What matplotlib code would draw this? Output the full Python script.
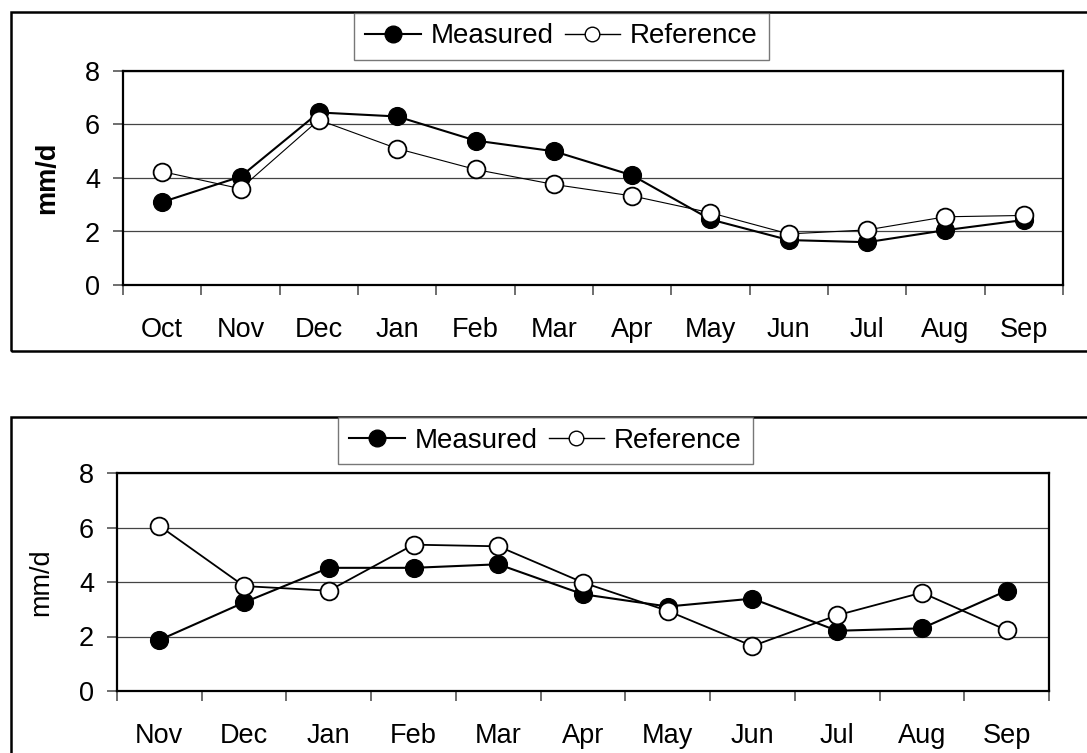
import matplotlib
matplotlib.use("Agg")
import matplotlib.pyplot as plt
from matplotlib.lines import Line2D
from matplotlib.patches import Rectangle

plt.rcParams['font.family'] = ['Liberation Sans', 'DejaVu Sans']

# Water year 1 (Oct-Sep)
months_top = ["Oct", "Nov", "Dec", "Jan", "Feb", "Mar", "Apr", "May", "Jun", "Jul", "Aug", "Sep"]
measured_top = [3.1, 4.05, 6.45, 6.3, 5.4, 5.0, 4.1, 2.45, 1.68, 1.6, 2.05, 2.43]
reference_top = [4.24, 3.6, 6.17, 5.1, 4.32, 3.76, 3.33, 2.7, 1.91, 2.06, 2.55, 2.6]

# Water year 2 (Nov-Sep)
months_bot = ["Nov", "Dec", "Jan", "Feb", "Mar", "Apr", "May", "Jun", "Jul", "Aug", "Sep"]
measured_bot = [1.87, 3.25, 4.52, 4.52, 4.65, 3.55, 3.1, 3.39, 2.21, 2.3, 3.68]
reference_bot = [6.06, 3.85, 3.68, 5.37, 5.31, 3.98, 2.94, 1.65, 2.78, 3.61, 2.23]

W, H = 1087, 753
FS = 19.5
fig = plt.figure(figsize=(W / 100, H / 100), dpi=100)


def px_rect(x0, y0, x1, y1):
    return [x0 / W, 1 - y1 / H, (x1 - x0) / W, (y1 - y0) / H]


def draw_panel(rect, months, meas, ref, legend_box, bold_label, frame, ref_lw):
    fx0, fy0, fx1, fy1 = frame
    fig.patches.append(Rectangle((fx0 / W, 1 - fy1 / H), (fx1 - fx0) / W, (fy1 - fy0) / H,
                                 transform=fig.transFigure, fill=False,
                                 edgecolor='black', linewidth=1.8, zorder=0))
    ax = fig.add_axes(px_rect(*rect))
    x = list(range(len(months)))
    ax.plot(x, meas, color='black', lw=1.5, marker='o', ms=12.8,
            mfc='black', mec='black', zorder=3)
    ax.plot(x, ref, color='black', lw=ref_lw, marker='o', ms=12.8,
            mfc='white', mec='black', mew=1.3, zorder=4)
    ax.set_xlim(-0.5, len(months) - 0.5)
    ax.set_ylim(0, 8)
    ax.set_yticks([0, 2, 4, 6, 8])
    ax.yaxis.grid(True, color='#444444', lw=0.9)
    ax.set_axisbelow(True)
    ax.set_xticks([i - 0.5 for i in range(len(months) + 1)])
    ax.set_xticklabels([])
    ax.set_xticks(x, minor=True)
    ax.set_xticklabels(months, minor=True)
    ax.tick_params(axis='x', which='major', length=7.5, width=1.2, color='#555555', direction='out')
    ax.tick_params(axis='x', which='minor', length=0, pad=23, labelsize=FS)
    ax.tick_params(axis='y', length=7.5, width=1.2, color='#555555', direction='out',
                   pad=9, labelsize=FS)
    for s in ax.spines.values():
        s.set_linewidth(1.6)
        s.set_color('black')
    ax.set_ylabel("mm/d", fontsize=FS, fontweight='bold' if bold_label else 'normal',
                  labelpad=18)

    handles = [
        Line2D([], [], color='black', lw=1.5, marker='o', ms=12, mfc='black', mec='black'),
        Line2D([], [], color='black', lw=1.0, marker='o', ms=10.5, mfc='white', mec='black'),
    ]
    lx0, ly0, lx1, ly1 = legend_box
    leg = fig.legend(handles, ["Measured", "Reference"], loc='upper center',
                     bbox_to_anchor=((lx0 + lx1) / 2 / W, 1 - ly0 / H),
                     bbox_transform=fig.transFigure, ncol=2, frameon=True,
                     fancybox=False, edgecolor='#555555', fontsize=20,
                     handlelength=2.0, handletextpad=0.36, columnspacing=0.4,
                     borderpad=0.38, borderaxespad=0)
    leg.get_frame().set_linewidth(1.0)
    return ax


draw_panel((123, 71, 1063, 285), months_top, measured_top, reference_top,
           (357, 12.7, 766, 60), True, (11, 12.5, 1095, 351), 0.8)
draw_panel((117, 473, 1049, 691), months_bot, measured_bot, reference_bot,
           (341, 417, 750, 463), False, (11, 417, 1095, 770), 1.3)

fig.savefig("out.png", dpi=100)
